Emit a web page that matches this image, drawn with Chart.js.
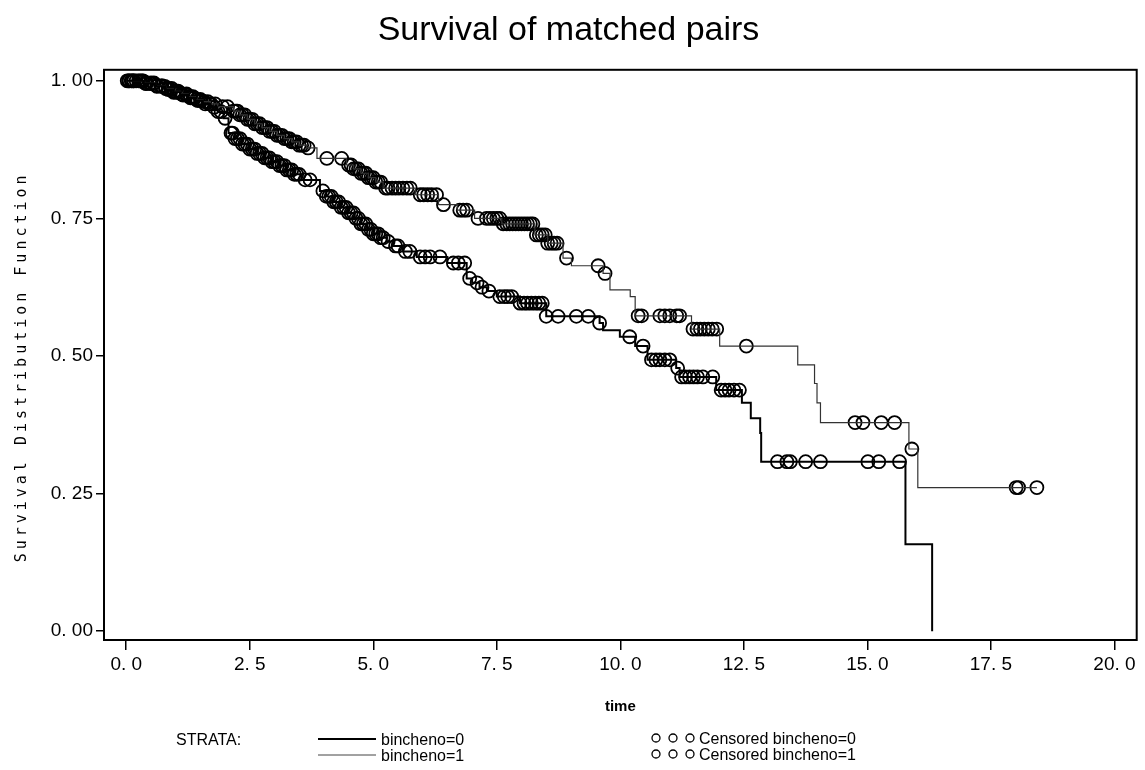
<!DOCTYPE html>
<html>
<head>
<meta charset="utf-8">
<title>Survival of matched pairs</title>
<script src="https://cdn.jsdelivr.net/npm/chart.js@4.4.1/dist/chart.umd.min.js"></script>
<style>
  html, body { margin: 0; padding: 0; background: #fff; }
</style>
</head>
<body>
<canvas id="km" width="1145" height="770"></canvas>
<script>
const xTicks = [0, 2.5, 5, 7.5, 10, 12.5, 15, 17.5, 20]
const yTicks = [0, 0.25, 0.5, 0.75, 1]

// bincheno=0 : event times and survival after each step
const time0 = [0, 0.35, 0.6, 0.8, 0.95, 1.1, 1.25, 1.4, 1.55, 1.7, 1.85, 1.97, 2.07, 2.2, 2.35, 2.5, 2.65, 2.8, 2.95, 3.1, 3.25, 3.4, 3.55, 3.92, 4.05, 4.2, 4.35, 4.5, 4.62, 4.75, 4.88, 5.0, 5.12, 5.27, 5.4, 5.6, 5.88, 6.5, 6.89, 7.0, 7.15, 7.3, 7.5, 7.97, 8.5, 9.58, 9.65, 9.99, 10.3, 10.55, 11.13, 11.2, 11.94, 12.46, 12.64, 12.83, 12.85, 15.77, 16.31]
const surv0 = [1.0, 0.995, 0.99, 0.984, 0.979, 0.974, 0.969, 0.964, 0.958, 0.952, 0.944, 0.932, 0.905, 0.895, 0.885, 0.876, 0.868, 0.86, 0.853, 0.846, 0.838, 0.83, 0.82, 0.8, 0.79, 0.78, 0.77, 0.76, 0.75, 0.74, 0.73, 0.722, 0.715, 0.708, 0.7, 0.69, 0.68, 0.669, 0.641, 0.633, 0.625, 0.618, 0.608, 0.596, 0.572, 0.56, 0.547, 0.535, 0.518, 0.493, 0.478, 0.462, 0.438, 0.415, 0.387, 0.36, 0.308, 0.158, 0.0]
const cens0 = [0.02, 0.06, 0.1, 0.15, 0.2, 0.28, 0.34, 0.4, 0.48, 0.55, 0.62, 0.7, 0.78, 0.85, 0.9, 0.96, 1.02, 1.08, 1.15, 1.22, 1.3, 1.38, 1.45, 1.52, 1.6, 1.68, 1.78, 1.86, 1.92, 2.0,
  2.12, 2.15, 2.2, 2.25, 2.3, 2.35, 2.4, 2.45, 2.5, 2.55, 2.6, 2.65, 2.7, 2.75, 2.8, 2.85, 2.9, 2.95, 3.0, 3.05, 3.1, 3.15, 3.2, 3.25, 3.3, 3.35, 3.4, 3.45, 3.5, 3.62, 3.72,
  3.98, 4.05, 4.1, 4.15, 4.2, 4.25, 4.3, 4.35, 4.4, 4.45, 4.5, 4.55, 4.6, 4.65, 4.7, 4.75, 4.8, 4.85, 4.9, 4.95, 5.0, 5.05, 5.1, 5.15, 5.2, 5.3, 5.45, 5.5,
  5.65, 5.74, 5.95, 6.05, 6.15, 6.35, 6.62, 6.72, 6.85, 6.95, 7.1, 7.2, 7.34, 7.56, 7.65, 7.72, 7.8, 7.97, 8.05, 8.12, 8.2, 8.28, 8.35, 8.42, 8.5, 8.74, 9.11, 9.35, 9.58,
  10.19, 10.46, 10.63, 10.72, 10.8, 10.9, 11.0, 11.16, 11.24, 11.32, 11.4, 11.48, 11.56, 11.67, 11.87, 12.04, 12.12, 12.2, 12.3, 12.41,
  13.18, 13.37, 13.44, 13.75, 14.05, 15.01, 15.23, 15.65]

// bincheno=1
const time1 = [0, 0.35, 0.6, 0.8, 0.95, 1.1, 1.25, 1.4, 1.55, 1.7, 1.85, 2.17, 2.3, 2.45, 2.6, 2.75, 2.9, 3.05, 3.2, 3.35, 3.5, 3.65, 3.86, 4.46, 4.6, 4.75, 4.9, 5.05, 5.2, 5.85, 6.32, 6.7, 7.05, 7.6, 8.27, 8.53, 8.84, 9.01, 9.65, 9.79, 10.2, 10.3, 11.44, 12.01, 13.59, 13.93, 13.98, 14.05, 15.84, 16.02, 18.43]
const surv1 = [1.0, 0.996, 0.991, 0.986, 0.981, 0.976, 0.971, 0.966, 0.962, 0.958, 0.953, 0.945, 0.938, 0.93, 0.922, 0.915, 0.908, 0.901, 0.895, 0.889, 0.883, 0.878, 0.859, 0.847, 0.84, 0.832, 0.824, 0.816, 0.805, 0.793, 0.775, 0.765, 0.75, 0.74, 0.72, 0.705, 0.678, 0.664, 0.65, 0.62, 0.608, 0.573, 0.549, 0.518, 0.484, 0.45, 0.415, 0.379, 0.331, 0.261, 0.261]
const cens1 = [0.05, 0.12, 0.15, 0.25, 0.32, 0.38, 0.42, 0.5, 0.56, 0.62, 0.72, 0.8, 0.85, 0.92, 0.98, 1.05, 1.12, 1.22, 1.3, 1.35, 1.42, 1.5, 1.58, 1.65, 1.72, 1.8, 1.95, 2.05,
  2.17, 2.22, 2.25, 2.3, 2.35, 2.4, 2.45, 2.5, 2.55, 2.6, 2.65, 2.7, 2.75, 2.8, 2.85, 2.9, 2.95, 3.0, 3.05, 3.1, 3.15, 3.2, 3.25, 3.3, 3.35, 3.4, 3.45, 3.5, 3.55, 3.6, 3.68,
  4.06, 4.36, 4.5, 4.55, 4.6, 4.65, 4.7, 4.75, 4.8, 4.85, 4.9, 4.95, 5.0, 5.05, 5.1, 5.15, 5.25, 5.3, 5.38, 5.45, 5.52, 5.6, 5.68, 5.75,
  5.95, 6.02, 6.1, 6.18, 6.28, 6.42, 6.75, 6.82, 6.89, 7.12, 7.29, 7.36, 7.43, 7.5, 7.56, 7.63, 7.7, 7.76, 7.82, 7.88, 7.94, 8.0, 8.06, 8.12, 8.18, 8.23,
  8.3, 8.36, 8.42, 8.48, 8.53, 8.6, 8.66, 8.72, 8.91, 9.55, 9.69,
  10.36, 10.43, 10.8, 10.9, 11.0, 11.14, 11.2, 11.47, 11.55, 11.62, 11.7, 11.78, 11.86, 11.95, 12.55,
  14.75, 14.91, 15.28, 15.55, 15.9, 18.01, 18.06, 18.43]

function survAt(times, surv, t) {
  let s = surv[0]
  for (let i = 0; i < times.length; i++) if (times[i] <= t) s = surv[i]
  return s
}
const curve = (times, surv) => times.map((t, i) => ({ x: t, y: surv[i] }))
const marks = (cens, times, surv) => cens.map(t => ({ x: t, y: survAt(times, surv, t) }))

const sans = "'Liberation Sans', Arial, sans-serif"

// frame, rotated y title and the SAS style legend underneath
const frameAndLegend = {
  id: "frameAndLegend",
  afterDraw(chart) {
    const { ctx, chartArea: a } = chart
    ctx.save()
    ctx.strokeStyle = "#000"
    ctx.lineWidth = 2
    ctx.strokeRect(a.left, a.top, a.right - a.left, a.bottom - a.top)

    ctx.translate(22, (a.top + a.bottom) / 2 + 12)
    ctx.rotate(-Math.PI / 2)
    ctx.font = "15px 'DejaVu Sans Mono', monospace"
    ctx.letterSpacing = "4px"
    ctx.textAlign = "center"
    ctx.textBaseline = "middle"
    ctx.fillStyle = "#000"
    ctx.fillText("Survival Distribution Function", 0, 0)
    ctx.restore()

    ctx.save()
    ctx.fillStyle = "#000"
    ctx.strokeStyle = "#000"
    ctx.font = "16px " + sans
    ctx.textBaseline = "middle"
    ctx.fillText("STRATA:", 176, 741)

    ctx.lineWidth = 2
    ctx.beginPath(); ctx.moveTo(318, 739); ctx.lineTo(376, 739); ctx.stroke()
    ctx.fillText("bincheno=0", 381, 741)

    ctx.lineWidth = 1
    ctx.strokeStyle = "#444"
    ctx.beginPath(); ctx.moveTo(318, 755); ctx.lineTo(376, 755); ctx.stroke()
    ctx.fillText("bincheno=1", 381, 757)

    ctx.strokeStyle = "#000"
    ctx.lineWidth = 1.3
    ;[738, 754].forEach((y, row) => {
      [656, 673, 690].forEach(x => {
        ctx.beginPath(); ctx.arc(x, y, 4, 0, Math.PI * 2); ctx.stroke()
      })
      ctx.fillText("Censored bincheno=" + row, 699, y + 2)
    })
    ctx.restore()
  }
}

new Chart(document.getElementById("km"), {
  type: "scatter",
  data: {
    datasets: [
      { label: "bincheno=0", data: curve(time0, surv0), showLine: true, stepped: "before",
        borderColor: "#000", borderWidth: 2, pointRadius: 0 },
      { label: "bincheno=1", data: curve(time1, surv1), showLine: true, stepped: "before",
        borderColor: "#333", borderWidth: 1.2, pointRadius: 0 },
      { label: "Censored bincheno=0", data: marks(cens0, time0, surv0), showLine: false,
        pointStyle: "circle", pointRadius: 6.5, borderWidth: 1.8, borderColor: "#000", backgroundColor: "rgba(0,0,0,0)" },
      { label: "Censored bincheno=1", data: marks(cens1, time1, surv1), showLine: false,
        pointStyle: "circle", pointRadius: 6.5, borderWidth: 1.8, borderColor: "#000", backgroundColor: "rgba(0,0,0,0)" }
    ]
  },
  options: {
    responsive: false,
    animation: false,
    layout: { padding: { top: 0, right: 8, bottom: 50, left: 0 } },
    plugins: {
      legend: { display: false },
      tooltip: { enabled: false },
      title: {
        display: true,
        text: "Survival of matched pairs",
        color: "#000",
        font: { family: sans, size: 34, weight: "normal" },
        padding: { top: 10, bottom: 19 }
      }
    },
    scales: {
      x: {
        type: "linear",
        min: -0.45,
        max: 20.45,
        afterBuildTicks: s => { s.ticks = xTicks.map(v => ({ value: v })) },
        afterFit: s => { s.height = 80 },
        grid: { drawOnChartArea: false, drawTicks: true, tickLength: 10, color: "#000", lineWidth: 1.5 },
        border: { display: false },
        ticks: {
          color: "#000",
          font: { family: sans, size: 19 },
          padding: 3,
          maxRotation: 0,
          callback: v => v.toFixed(1).replace(".", ". ")
        },
        title: {
          display: true,
          text: "time",
          color: "#000",
          font: { family: sans, size: 15, weight: "bold" },
          padding: { top: 0, bottom: 4 }
        }
      },
      y: {
        type: "linear",
        min: -0.016,
        max: 1.02,
        afterBuildTicks: s => { s.ticks = yTicks.map(v => ({ value: v })) },
        afterFit: s => { s.width = 104 },
        grid: { drawOnChartArea: false, drawTicks: true, tickLength: 8, color: "#000", lineWidth: 1.5 },
        border: { display: false },
        ticks: {
          color: "#000",
          font: { family: sans, size: 19 },
          padding: 3,
          callback: v => v.toFixed(2).replace(".", ". ")
        }
      }
    }
  },
  plugins: [frameAndLegend]
})
</script>
</body>
</html>
